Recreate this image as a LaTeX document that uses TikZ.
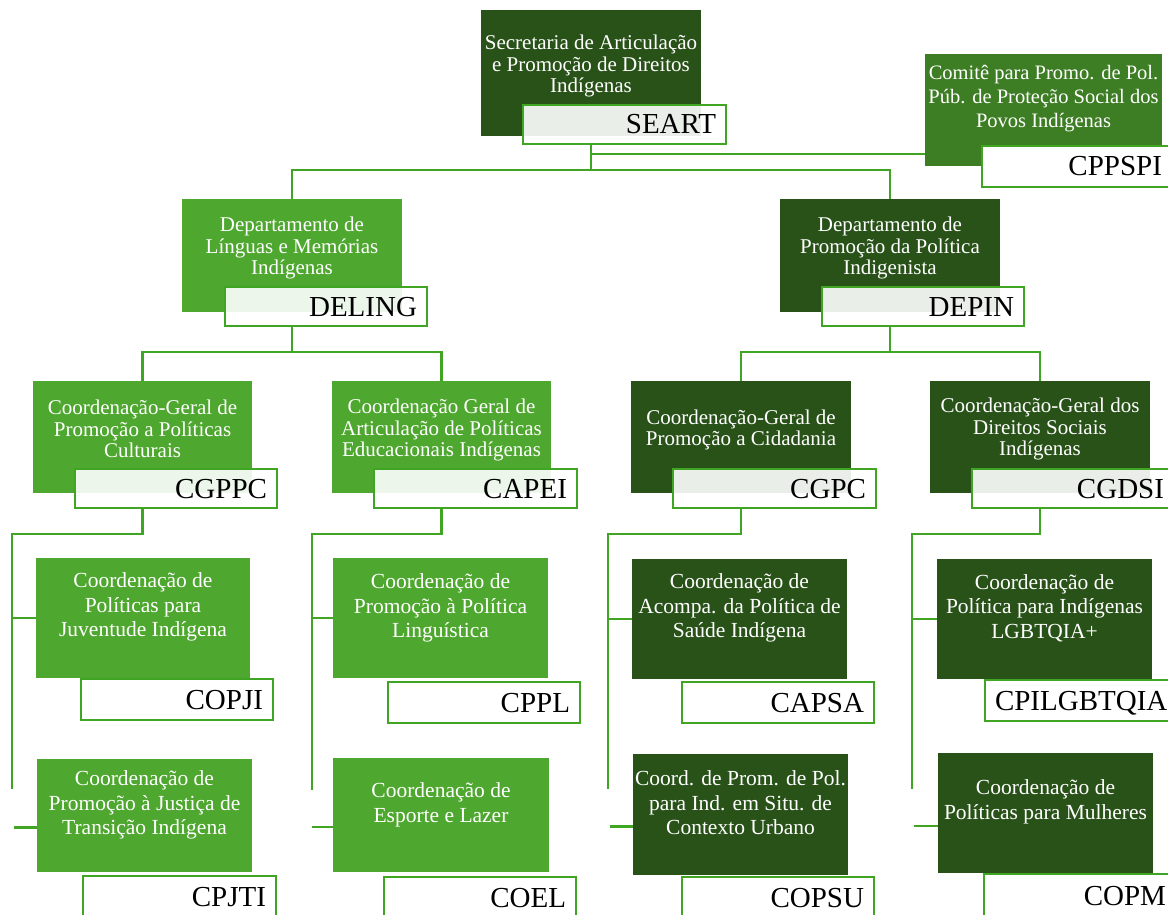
\documentclass[tikz,border=0pt]{standalone}
\usepackage{fontspec}
\setmainfont{Liberation Serif}
\definecolor{dk}{HTML}{295219}
\definecolor{md}{HTML}{4EA72E}
\definecolor{cm}{HTML}{3D7D23}
\definecolor{ln}{HTML}{40A523}
\tikzset{
  boxd/.style={fill=dk, draw=none, inner sep=0pt},
  boxm/.style={fill=md, draw=none, inner sep=0pt},
  boxc/.style={fill=cm, draw=none, inner sep=0pt},
  btxt/.style={text=white, align=center, inner sep=0pt, font=\fontsize{21}{21.8}\selectfont},
  ctxt/.style={btxt, font=\fontsize{20.5}{24}\selectfont},
  ltxt/.style={btxt, font=\fontsize{21.5}{24.6}\selectfont},
  lblt/.style={draw=ln, line width=2.6pt, fill=white, fill opacity=0.9, text opacity=1,
    inner xsep=10pt, inner ysep=0pt, align=right, text=black,
    font=\fontsize{29}{30}\selectfont, text height=19pt, text depth=0pt},
  lblw/.style={lblt, fill opacity=1},
  conn/.style={draw=ln, line width=2.6pt}
}
\newcommand\mkbox[6]{%
  \pgfmathsetmacro\bw{#5-#3}\pgfmathsetmacro\bh{#6-#4}%
  \node[#2, minimum width=\bw pt, minimum height=\bh pt] (#1) at ({(#3+#5)/2},{(#4+#6)/2}) {};}
\newcommand\mklbl[7]{%
  \pgfmathsetmacro\bw{#5-#3}\pgfmathsetmacro\bh{#6-#4}\pgfmathsetmacro\tw{#5-#3-20}%
  \node[#2, minimum width=\bw pt, minimum height=\bh pt, text width=\tw pt] (#1) at ({(#3+#5)/2},{(#4+#6)/2}) {#7};}
\begin{document}
\begin{tikzpicture}[x=1pt,y=-1pt]
\useasboundingbox (0,0) rectangle (1168,915);
\clip (0,0) rectangle (1168,915);
% boxes
\mkbox{seart}{boxd}{481}{10}{701}{136}
\mkbox{cppspi}{boxc}{925}{54}{1162}{166}
\mkbox{deling}{boxm}{182}{199}{402}{312}
\mkbox{depin}{boxd}{780}{199}{1000}{312}
\mkbox{cgppc}{boxm}{33}{381}{252}{493}
\mkbox{capei}{boxm}{332}{381}{551}{493}
\mkbox{cgpc}{boxd}{631}{381}{851}{493}
\mkbox{cgdsi}{boxd}{930}{381}{1150}{493}
\mkbox{copji}{boxm}{36}{558}{250}{678}
\mkbox{cpjti}{boxm}{37}{759}{252}{872}
\mkbox{cppl}{boxm}{333}{558}{548}{678}
\mkbox{coel}{boxm}{333}{758}{549}{872}
\mkbox{capsa}{boxd}{632}{559}{847}{679}
\mkbox{copsu}{boxd}{633}{754}{848}{875}
\mkbox{cpil}{boxd}{937}{559}{1152}{679}
\mkbox{copm}{boxd}{938}{753}{1153}{873}
% connectors
\coordinate (j0) at (seart.south |- 0,170);
\coordinate (j1) at (seart.south |- 0,154);
\draw[conn] (seart.south |- 0,144) -- (j0);
\draw[conn] (deling.north) |- (j0) -| (depin.north);
\draw[conn] (j1) -- (j1 -| cppspi.west);
\coordinate (j2) at (deling.south |- 0,352);
\coordinate (j3) at (depin.south |- 0,352);
\draw[conn] (deling.south |- 0,326) -- (j2);
\draw[conn] (cgppc.north) |- (j2) -| (capei.north);
\draw[conn] (depin.south |- 0,326) -- (j3);
\draw[conn] (cgpc.north) |- (j3) -| (cgdsi.north);
\coordinate (a1) at (12,534); \coordinate (a2) at (12,789);
\coordinate (b1) at (312,534); \coordinate (b2) at (312,790);
\coordinate (c1) at (608,534); \coordinate (c2) at (608,789);
\coordinate (d1) at (912,534); \coordinate (d2) at (912,789);
\draw[conn] (cgppc.south |- 0,508) |- (a1) -- (a2);
\draw[conn] (capei.south |- 0,508) |- (b1) -- (b2);
\draw[conn] (cgpc.south |- 0,508) |- (c1) -- (c2);
\draw[conn] (cgdsi.south |- 0,508) |- (d1) -- (d2);
\draw[conn] (copji.west) -- (copji.west -| a1);
\draw[conn] (cppl.west) -- (cppl.west -| b1);
\draw[conn] (capsa.west) -- (capsa.west -| c1);
\draw[conn] (cpil.west) -- (cpil.west -| d1);
\draw[conn] ([yshift=-12pt]cpjti.west) -- ++(-23,0);
\draw[conn] ([yshift=-12pt]coel.west) -- ++(-21,0);
\draw[conn] ([yshift=-12pt]copsu.west) -- ++(-23,0);
\draw[conn] ([yshift=-13pt]copm.west) -- ++(-24,0);
% texts
\node[btxt] (seartT) at (591,66) {Secretaria de Articulação\\e Promoção de Direitos\\Indígenas};
\node[ctxt] (cppspiT) at (1043.5,99) {Comitê para Promo. de Pol.\\Púb. de Proteção Social dos\\Povos Indígenas};
\node[btxt] (delingT) at (292,248) {Departamento de\\Línguas e Memórias\\Indígenas};
\node[btxt] (depinT) at (890,248) {Departamento de\\Promoção da Política\\Indigenista};
\node[btxt] (cgppcT) at (142.5,429) {Coordenação-Geral de\\Promoção a Políticas\\Culturais};
\node[btxt] (capeiT) at (441.5,430) {Coordenação Geral de\\Articulação de Políticas\\Educacionais Indígenas};
\node[btxt] (cgpcT) at (741,430) {Coordenação-Geral de\\Promoção a Cidadania};
\node[btxt] (cgdsiT) at (1040,429) {Coordenação-Geral dos\\Direitos Sociais\\Indígenas};
\node[ltxt] (copjiT) at (143,607) {Coordenação de\\Políticas para\\Juventude Indígena};
\node[ltxt] (cpjtiT) at (144.5,805) {Coordenação de\\Promoção à Justiça de\\Transição Indígena};
\node[ltxt] (cpplT) at (440.5,608) {Coordenação de\\Promoção à Política\\Linguística};
\node[ltxt] (coelT) at (441,805) {Coordenação de\\Esporte e Lazer};
\node[ltxt] (capsaT) at (739.5,608) {Coordenação de\\Acompa. da Política de\\Saúde Indígena};
\node[ltxt] (copsuT) at (740.5,803) {Coord. de Prom. de Pol.\\para Ind. em Situ. de\\Contexto Urbano};
\node[ltxt] (cpilT) at (1044.5,608) {Coordenação de\\Política para Indígenas\\LGBTQIA+};
\node[ltxt] (copmT) at (1045.5,802) {Coordenação de\\Políticas para Mulheres};
% labels
\mklbl{seartL}{lblt}{523}{105}{726}{144}{SEART}
\mklbl{cppspiL}{lblw}{982}{146}{1172}{187}{CPPSPI}
\mklbl{delingL}{lblt}{225}{287}{427}{326}{DELING}
\mklbl{depinL}{lblt}{822}{287}{1024}{326}{DEPIN}
\mklbl{cgppcL}{lblt}{75}{469}{277}{508}{CGPPC}
\mklbl{capeiL}{lblt}{374}{469}{577}{508}{CAPEI}
\mklbl{cgpcL}{lblt}{673}{469}{876}{508}{CGPC}
\mklbl{cgdsiL}{lblt}{972}{469}{1174}{508}{CGDSI}
\mklbl{copjiL}{lblw}{81}{679}{273}{720}{COPJI}
\mklbl{cpjtiL}{lblw}{83}{876}{276}{918}{CPJTI}
\mklbl{cpplL}{lblw}{388}{682}{580}{723}{CPPL}
\mklbl{coelL}{lblw}{384}{877}{576}{918}{COEL}
\mklbl{capsaL}{lblw}{682}{682}{874}{723}{CAPSA}
\mklbl{copsuL}{lblw}{682}{877}{874}{918}{COPSU}
\mklbl{cpilL}{lblw}{985}{680}{1177}{721}{CPILGBTQIA}
\mklbl{copmL}{lblw}{984}{874}{1176}{918}{COPM}
\end{tikzpicture}
\end{document}
